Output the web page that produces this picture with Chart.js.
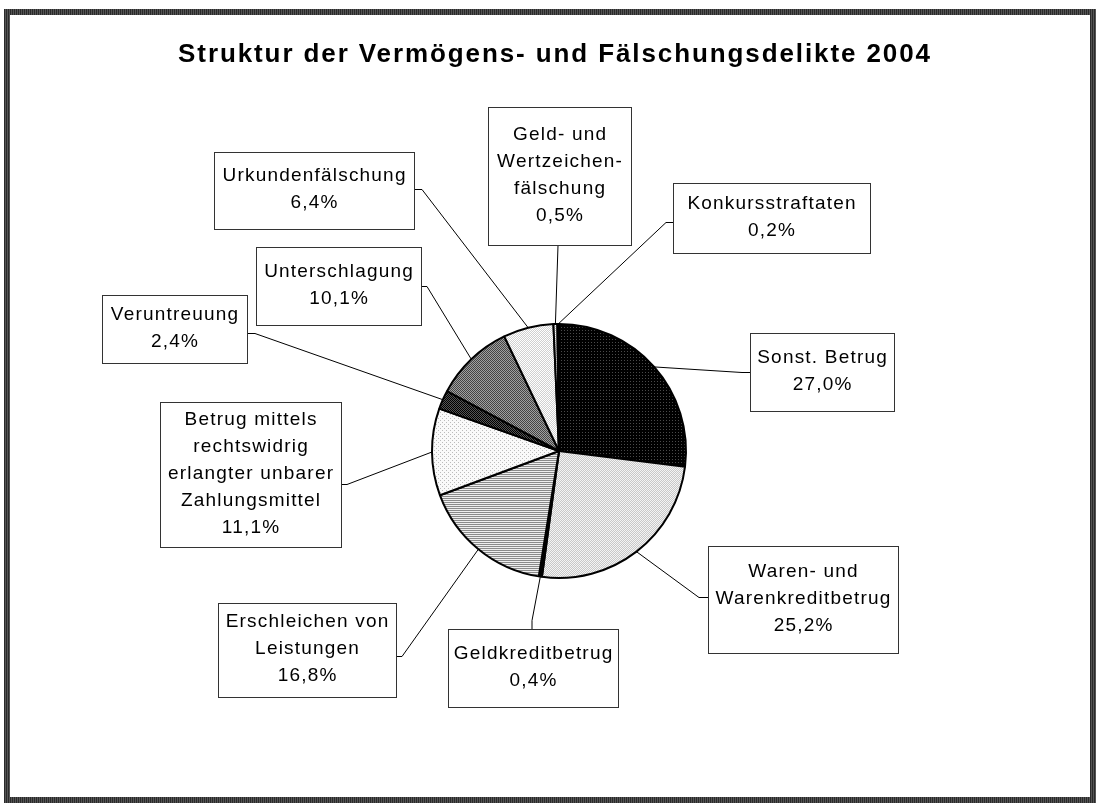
<!DOCTYPE html>
<html><head><meta charset="utf-8">
<script src="https://cdn.jsdelivr.net/npm/chart.js@4.4.0/dist/chart.umd.min.js"></script>
<style>html,body{margin:0;padding:0;background:#fff;}#wrap{position:relative;width:1096px;height:803px;}</style>
</head><body><div id="wrap"><canvas id="c" width="1096" height="803"></canvas></div>
<script>
// ---- data ----
const TITLE = 'Struktur der Vermögens- und Fälschungsdelikte 2004';
const categories = ['Sonst. Betrug', 'Waren- und Warenkreditbetrug', 'Geldkreditbetrug',
  'Erschleichen von Leistungen', 'Betrug mittels rechtswidrig erlangter unbarer Zahlungsmittel',
  'Veruntreuung', 'Unterschlagung', 'Urkundenfälschung', 'Geld- und Wertzeichenfälschung', 'Konkursstraftaten'];
const labelLines = [
  ['Sonst. Betrug'], ['Waren- und', 'Warenkreditbetrug'], ['Geldkreditbetrug'],
  ['Erschleichen von', 'Leistungen'], ['Betrug mittels', 'rechtswidrig', 'erlangter unbarer', 'Zahlungsmittel'],
  ['Veruntreuung'], ['Unterschlagung'], ['Urkundenfälschung'], ['Geld- und', 'Wertzeichen-', 'fälschung'],
  ['Konkursstraftaten']];
const values = [27.0, 25.2, 0.4, 16.8, 11.1, 2.4, 10.1, 6.4, 0.5, 0.2];

// ---- layout (label boxes: rect, anchor on box, tick end) ----
const boxes = [
  {x:750,y:333,w:144,h:78, ax:750,ay:372, tx:742,ty:372},
  {x:708,y:546,w:190,h:107, ax:708,ay:597, tx:699,ty:597},
  {x:448,y:629,w:170,h:78, ax:532,ay:629, tx:532,ty:620},
  {x:218,y:603,w:178,h:94, ax:396,ay:656, tx:402,ty:656},
  {x:160,y:402,w:181,h:145, ax:341,ay:484, tx:347,ty:484},
  {x:102,y:295,w:145,h:68, ax:247,ay:333, tx:255,ty:333},
  {x:256,y:247,w:165,h:78, ax:421,ay:286, tx:427,ty:286},
  {x:214,y:152,w:200,h:77, ax:414,ay:189, tx:422,ty:189},
  {x:488,y:107,w:143,h:138, ax:558,ay:245, tx:558,ty:245},
  {x:673,y:183,w:197,h:70, ax:673,ay:222, tx:666,ty:222}
];

function pat(w, h, fn) {
  const c = document.createElement('canvas'); c.width = w; c.height = h;
  const x = c.getContext('2d');
  for (let i = 0; i < w; i++) for (let j = 0; j < h; j++) { x.fillStyle = fn(i, j); x.fillRect(i, j, 1, 1); }
  return document.getElementById('c').getContext('2d').createPattern(c, 'repeat');
}
const fills = [
  pat(3, 3, (i, j) => (i === 0 && j === 0) ? '#4a4a4a' : '#000'),
  pat(2, 2, (i, j) => ((i + j) % 2) ? '#c8c8c8' : '#f4f4f4'),
  '#000',
  pat(1, 2, (i, j) => j ? '#eeeeee' : '#8a8a8a'),
  pat(4, 4, (i, j) => ((i === 0 && j === 0) || (i === 2 && j === 2)) ? '#bbb' : '#fafafa'),
  pat(2, 2, (i, j) => ((i + j) % 2) ? '#555' : '#000'),
  pat(2, 2, (i, j) => ((i + j) % 2) ? '#a0a0a0' : '#444'),
  pat(2, 2, (i, j) => ((i + j) % 2) ? '#d0d0d0' : '#fff'),
  pat(2, 2, (i, j) => ((i + j) % 2) ? '#bbb' : '#fff'),
  '#888'
];
const framePat = pat(2, 1, (i) => i ? '#555' : '#2a2a2a');

const FONT = '"Liberation Sans", Arial, sans-serif';
const fmt = v => v.toFixed(1).replace('.', ',') + '%';

const deco = {
  id: 'deco',
  beforeDraw(chart) {
    const ctx = chart.ctx;
    ctx.save();
    ctx.fillStyle = '#fff'; ctx.fillRect(0, 0, chart.width, chart.height);
    ctx.strokeStyle = framePat; ctx.lineWidth = 6;
    ctx.strokeRect(7, 12, 1086, 788);
    ctx.fillStyle = '#000'; ctx.font = 'bold 26px ' + FONT;
    ctx.textAlign = 'center'; ctx.textBaseline = 'alphabetic';
    ctx.letterSpacing = '1.9px';
    ctx.fillText(TITLE, 555, 62);
    ctx.restore();
  },
  afterDatasetsDraw(chart) {
    const ctx = chart.ctx;
    const arcs = chart.getDatasetMeta(0).data;
    ctx.save();
    arcs.forEach((a, i) => {
      const b = boxes[i];
      const mid = (a.startAngle + a.endAngle) / 2;
      const px = a.x + Math.cos(mid) * a.outerRadius, py = a.y + Math.sin(mid) * a.outerRadius;
      ctx.strokeStyle = '#000'; ctx.lineWidth = 1;
      ctx.beginPath(); ctx.moveTo(b.ax, b.ay + 0.5); ctx.lineTo(b.tx, b.ty + 0.5); ctx.lineTo(px, py); ctx.stroke();
      ctx.fillStyle = '#fff'; ctx.fillRect(b.x, b.y, b.w, b.h);
      ctx.strokeStyle = '#333'; ctx.strokeRect(b.x + 0.5, b.y + 0.5, b.w, b.h);
      const lines = labelLines[i].concat([fmt(values[i])]);
      const lh = 27;
      ctx.fillStyle = '#000'; ctx.font = '19px ' + FONT;
      ctx.textAlign = 'center'; ctx.textBaseline = 'middle';
      ctx.letterSpacing = '1.2px';
      const cy = b.y + b.h / 2 - (lines.length - 1) * lh / 2 - 1;
      lines.forEach((t, k) => ctx.fillText(t, b.x + b.w / 2 + 0.6, cy + k * lh));
    });
    ctx.restore();
  }
};

new Chart(document.getElementById('c'), {
  type: 'pie',
  data: { labels: categories, datasets: [{ data: values, backgroundColor: fills, borderColor: '#000', borderWidth: 2, radius: 127 }] },
  options: {
    responsive: false, animation: false, events: [],
    layout: { padding: { left: 22, right: 0, top: 99, bottom: 0 } },
    plugins: { legend: { display: false }, tooltip: { enabled: false }, title: { display: false } }
  },
  plugins: [deco]
});
</script></body></html>
